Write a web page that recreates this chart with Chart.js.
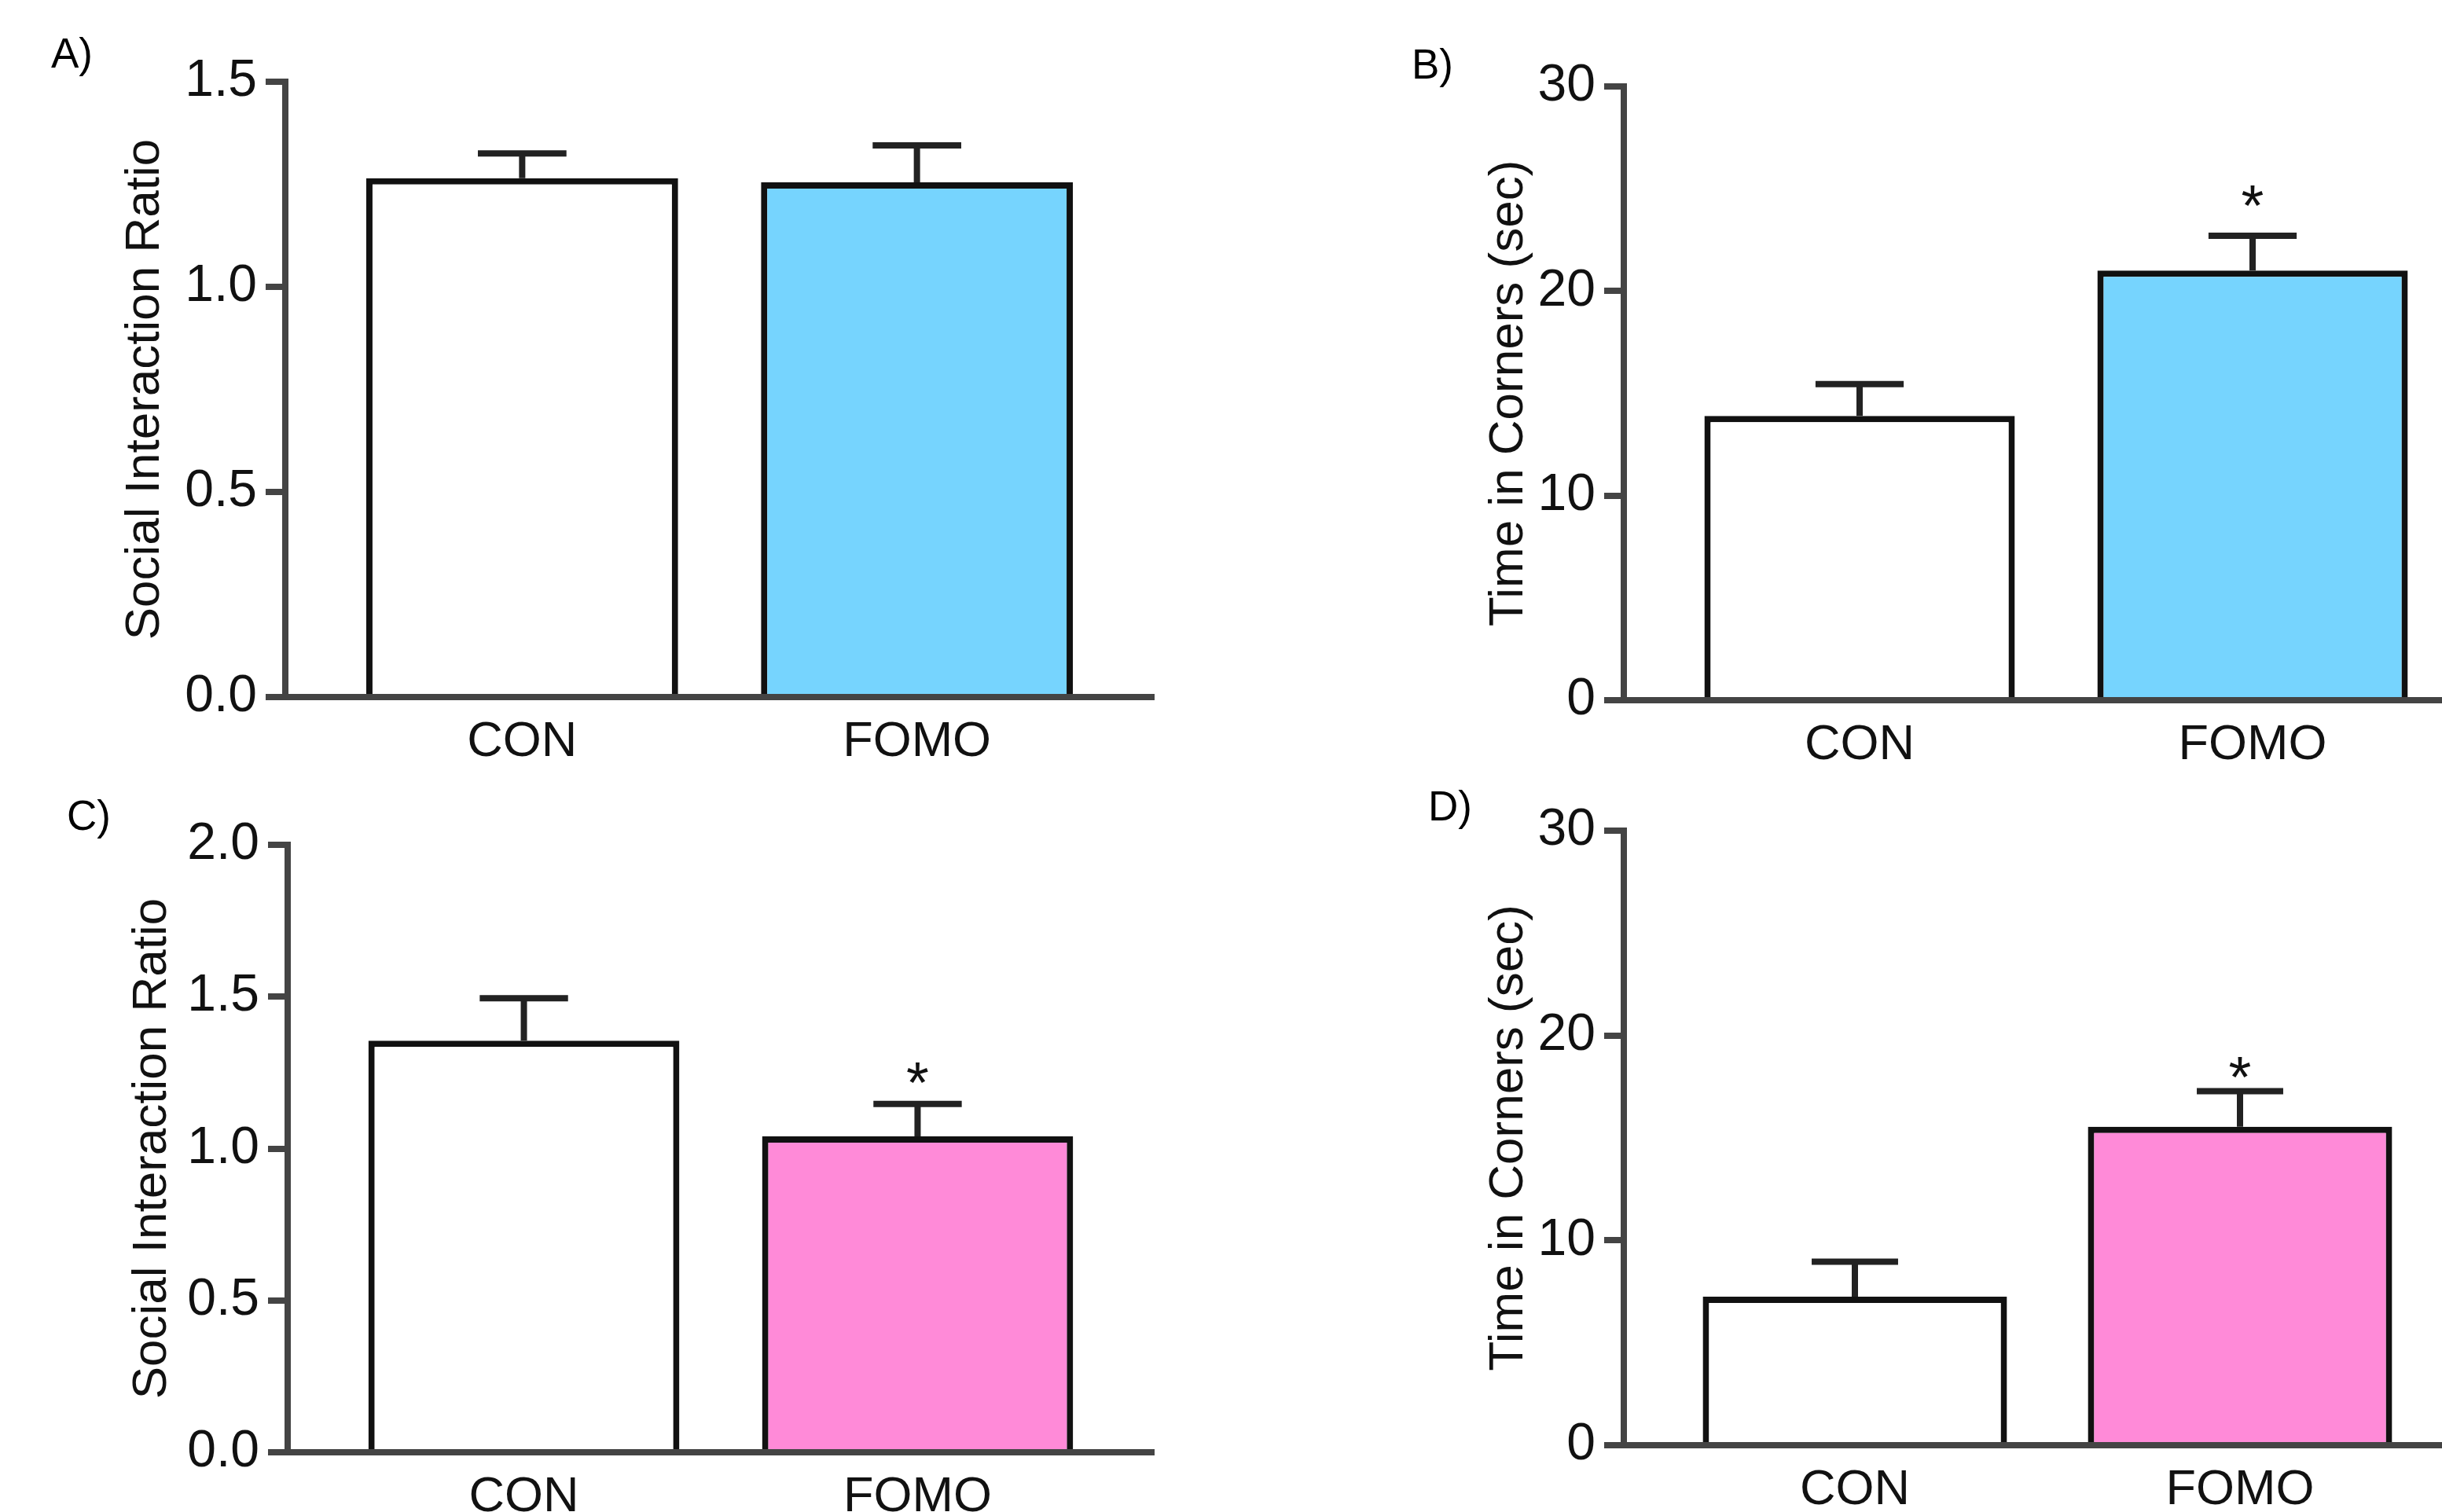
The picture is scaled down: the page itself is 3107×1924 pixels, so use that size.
<!DOCTYPE html>
<html>
<head>
<meta charset="utf-8">
<script src="https://cdn.jsdelivr.net/npm/chart.js@4.4.0/dist/chart.umd.min.js"></script>
<style>
  html, body { margin: 0; padding: 0; background: #fff; overflow: hidden; }
  body { width: 3107px; height: 1924px; position: relative; }
  canvas { position: absolute; }
  .panel-label { position: absolute; font-family: "Liberation Sans", Arial, sans-serif; font-size: 53px; line-height: 1; color: #000; }
</style>
</head>
<body>
<div class="panel-label" style="left:65px;top:41px">A)</div>
<div class="panel-label" style="left:1796px;top:55px">B)</div>
<div class="panel-label" style="left:85px;top:1011px">C)</div>
<div class="panel-label" style="left:1817px;top:999px">D)</div>

<canvas id="chartA" width="1500" height="990" style="left:0px;top:0px"></canvas>
<canvas id="chartB" width="1440" height="990" style="left:1750px;top:0px"></canvas>
<canvas id="chartC" width="1500" height="1000" style="left:0px;top:960px"></canvas>
<canvas id="chartD" width="1440" height="1000" style="left:1750px;top:960px"></canvas>

<script>
// groups on the x axis
const categories = ['CON', 'FOMO'];

// y tick labels
const ratioTicksA = [0, 0.5, 1.0, 1.5];
const ratioTicksC = [0, 0.5, 1.0, 1.5, 2.0];
const timeTicks = [0, 10, 20, 30];

// A) social interaction ratio
const ratioMeansA = [1.265, 1.255];
const ratioErrorsA = [0.06, 0.09];
const starsA = [false, false];

// B) time in corners
const timeMeansB = [13.9, 21.0];
const timeErrorsB = [1.55, 1.7];
const starsB = [false, true];

// C) social interaction ratio
const ratioMeansC = [1.355, 1.04];
const ratioErrorsC = [0.14, 0.107];
const starsC = [false, true];

// D) time in corners
const timeMeansD = [7.25, 15.55];
const timeErrorsD = [1.71, 1.73];
const starsD = [false, true];

const BLUE = '#76d4fe';
const PINK = '#ff8ad8';
const AXIS = '#444444';

// error bars (mean + SEM) and significance stars
const errorBarPlugin = {
    id: 'errorBars',
    afterDatasetsDraw(chart, args, opts) {
        const ctx = chart.ctx;
        const meta = chart.getDatasetMeta(0);
        const ys = chart.scales.y;
        const points = chart.data.datasets[0].data;
        ctx.save();
        ctx.strokeStyle = '#222';
        ctx.lineWidth = 8;
        meta.data.forEach((bar, i) => {
            const x = bar.x;
            const yBar = ys.getPixelForValue(points[i].y);
            const yTop = ys.getPixelForValue(points[i].y + opts.errors[i]);
            const half = bar.width * 0.142;
            ctx.beginPath();
            ctx.moveTo(x, yBar);
            ctx.lineTo(x, yTop);
            ctx.moveTo(x - half, yTop);
            ctx.lineTo(x + half, yTop);
            ctx.stroke();
            if (opts.stars[i]) {
                ctx.fillStyle = '#111';
                ctx.font = '74px "Liberation Sans", Arial, sans-serif';
                ctx.textAlign = 'center';
                ctx.textBaseline = 'alphabetic';
                ctx.fillText('*', x, yTop - opts.starGap + 42);
            }
        });
        ctx.restore();
    }
};

function makePanel(id, cfg) {
    new Chart(document.getElementById(id), {
        type: 'bar',
        data: {
            datasets: [{
                data: cfg.means.map((v, i) => ({ x: i + 1, y: v })),
                backgroundColor: ['#ffffff', cfg.color],
                borderColor: '#111',
                borderWidth: 8,
                barPercentage: 0.79,
                categoryPercentage: 1
            }]
        },
        options: {
            responsive: false,
            animation: false,
            layout: { padding: cfg.padding },
            plugins: {
                legend: { display: false },
                tooltip: { enabled: false },
                errorBars: { errors: cfg.errors, stars: cfg.stars, starGap: cfg.starGap }
            },
            scales: {
                x: {
                    type: 'linear',
                    offset: false,
                    min: 0.4,
                    max: 2.6,
                    afterBuildTicks: s => { s.ticks = categories.map((c, i) => ({ value: i + 1 })); },
                    afterFit: s => { s.height = cfg.xHeight; },
                    grid: { display: false, offset: false },
                    border: { display: true, color: AXIS, width: 8 },
                    ticks: {
                        callback: v => categories[v - 1],
                        font: { family: '"Liberation Sans", Arial, sans-serif', size: 63 },
                        color: '#111',
                        padding: 12,
                        maxRotation: 0,
                        autoSkip: false
                    }
                },
                y: {
                    min: 0,
                    max: cfg.ticks[cfg.ticks.length - 1],
                    afterBuildTicks: s => { s.ticks = cfg.ticks.map(v => ({ value: v })); },
                    afterFit: s => { s.width = cfg.yWidth; },
                    grid: { display: true, drawOnChartArea: false, drawTicks: true, tickLength: 25, lineWidth: 8, color: AXIS, tickColor: AXIS },
                    border: { display: true, color: AXIS, width: 8 },
                    ticks: {
                        callback: v => v.toFixed(cfg.decimals),
                        font: { family: '"Liberation Sans Narrow", "Liberation Sans", Arial, sans-serif', size: 66 },
                        color: '#111',
                        padding: 11
                    },
                    title: {
                        display: true,
                        text: cfg.title,
                        font: { family: '"Liberation Sans", Arial, sans-serif', size: 62 },
                        color: '#111',
                        padding: { top: cfg.titlePad, bottom: 0 }
                    }
                }
            }
        },
        plugins: [errorBarPlugin]
    });
}

makePanel('chartA', {
    means: ratioMeansA, errors: ratioErrorsA, stars: starsA, starGap: 50,
    color: BLUE, ticks: ratioTicksA, decimals: 1,
    title: 'Social Interaction Ratio', titlePad: 148,
    yWidth: 363, xHeight: 103,
    padding: { top: 104, right: 32, bottom: 0, left: 0 }
});

makePanel('chartB', {
    means: timeMeansB, errors: timeErrorsB, stars: starsB, starGap: 55,
    color: BLUE, ticks: timeTicks, decimals: 0,
    title: 'Time in Corners (sec)', titlePad: 133,
    yWidth: 316, xHeight: 99,
    padding: { top: 110, right: 24, bottom: 0, left: 0 }
});

makePanel('chartC', {
    means: ratioMeansC, errors: ratioErrorsC, stars: starsC, starGap: 44,
    color: PINK, ticks: ratioTicksC, decimals: 1,
    title: 'Social Interaction Ratio', titlePad: 157,
    yWidth: 366, xHeight: 112,
    padding: { top: 115, right: 32, bottom: 0, left: 0 }
});

makePanel('chartD', {
    means: timeMeansD, errors: timeErrorsD, stars: starsD, starGap: 35,
    color: PINK, ticks: timeTicks, decimals: 0,
    title: 'Time in Corners (sec)', titlePad: 133,
    yWidth: 316, xHeight: 121,
    padding: { top: 97, right: 46, bottom: 0, left: 0 }
});
</script>
</body>
</html>
